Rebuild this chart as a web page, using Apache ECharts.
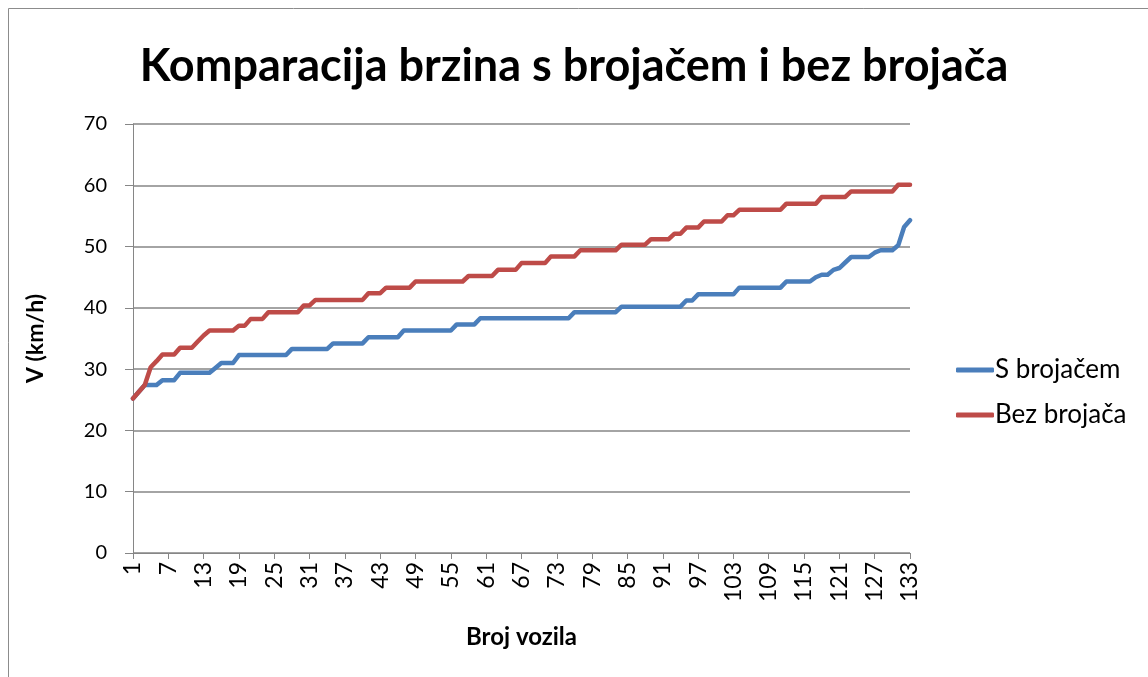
<!DOCTYPE html>
<html>
<head>
<meta charset="utf-8">
<script src="https://cdn.jsdelivr.net/npm/echarts@6/dist/echarts.min.js"></script>
<style>
html,body{margin:0;padding:0;background:#fff;}
#chart{width:1148px;height:677px;}
</style>
</head>
<body>
<div id="chart"></div>
<script>
const titleText = 'Komparacija brzina s brojačem i bez brojača';
const seriesNames = ['S brojačem', 'Bez brojača'];
const xAxisName = 'Broj vozila';
const yAxisName = 'V (km/h)';

const categories = [];
for (let i = 1; i <= 133; i++) categories.push(String(i));

const sBrojacem = [
  25.2, 26.3, 27.4, 27.4, 27.4, 28.2, 28.2, 28.2, 29.4, 29.4,
  29.4, 29.4, 29.4, 29.4, 30.2, 31.0, 31.0, 31.0, 32.3, 32.3,
  32.3, 32.3, 32.3, 32.3, 32.3, 32.3, 32.3, 33.3, 33.3, 33.3,
  33.3, 33.3, 33.3, 33.3, 34.2, 34.2, 34.2, 34.2, 34.2, 34.2,
  35.2, 35.2, 35.2, 35.2, 35.2, 35.2, 36.3, 36.3, 36.3, 36.3,
  36.3, 36.3, 36.3, 36.3, 36.3, 37.3, 37.3, 37.3, 37.3, 38.3,
  38.3, 38.3, 38.3, 38.3, 38.3, 38.3, 38.3, 38.3, 38.3, 38.3,
  38.3, 38.3, 38.3, 38.3, 38.3, 39.3, 39.3, 39.3, 39.3, 39.3,
  39.3, 39.3, 39.3, 40.2, 40.2, 40.2, 40.2, 40.2, 40.2, 40.2,
  40.2, 40.2, 40.2, 40.2, 41.2, 41.2, 42.2, 42.2, 42.2, 42.2,
  42.2, 42.2, 42.2, 43.3, 43.3, 43.3, 43.3, 43.3, 43.3, 43.3,
  43.3, 44.3, 44.3, 44.3, 44.3, 44.3, 45.0, 45.4, 45.4, 46.2,
  46.5, 47.4, 48.3, 48.3, 48.3, 48.3, 49.0, 49.4, 49.4, 49.4,
  50.2, 53.2, 54.3
];

const bezBrojaca = [
  25.2, 26.3, 27.4, 30.3, 31.3, 32.4, 32.4, 32.4, 33.5, 33.5,
  33.5, 34.5, 35.5, 36.3, 36.3, 36.3, 36.3, 36.3, 37.1, 37.1,
  38.2, 38.2, 38.2, 39.3, 39.3, 39.3, 39.3, 39.3, 39.3, 40.4,
  40.4, 41.3, 41.3, 41.3, 41.3, 41.3, 41.3, 41.3, 41.3, 41.3,
  42.4, 42.4, 42.4, 43.3, 43.3, 43.3, 43.3, 43.3, 44.3, 44.3,
  44.3, 44.3, 44.3, 44.3, 44.3, 44.3, 44.3, 45.2, 45.2, 45.2,
  45.2, 45.2, 46.2, 46.2, 46.2, 46.2, 47.3, 47.3, 47.3, 47.3,
  47.3, 48.4, 48.4, 48.4, 48.4, 48.4, 49.4, 49.4, 49.4, 49.4,
  49.4, 49.4, 49.4, 50.3, 50.3, 50.3, 50.3, 50.3, 51.2, 51.2,
  51.2, 51.2, 52.1, 52.1, 53.1, 53.1, 53.1, 54.1, 54.1, 54.1,
  54.1, 55.1, 55.1, 56.0, 56.0, 56.0, 56.0, 56.0, 56.0, 56.0,
  56.0, 57.0, 57.0, 57.0, 57.0, 57.0, 57.0, 58.1, 58.1, 58.1,
  58.1, 58.1, 59.0, 59.0, 59.0, 59.0, 59.0, 59.0, 59.0, 59.0,
  60.1, 60.1, 60.1
];

const FONT = 'Lato, "Open Sans", sans-serif';
const chart = echarts.init(document.getElementById('chart'), null, {renderer: 'canvas'});
chart.setOption({
  animation: false,
  backgroundColor: '#fff',
  graphic: [{
    type: 'polyline',
    shape: {points: [[8.5, 677], [8.5, 8.5], [1148, 8.5]]},
    style: {stroke: '#8c8c8c', lineWidth: 1, fill: null},
    silent: true
  }],
  title: {
    text: titleText,
    left: 'center',
    top: 44,
    padding: 0,
    textStyle: {fontFamily: FONT, fontWeight: 'bold', fontSize: 45, color: '#000'}
  },
  legend: {
    orient: 'vertical',
    left: 951,
    top: 352,
    itemWidth: 38,
    itemHeight: 5,
    itemGap: 19,
    icon: 'roundRect',
    textStyle: {fontFamily: FONT, fontSize: 26, color: '#000', padding: [0, 0, 0, -4]},
    data: seriesNames
  },
  grid: {left: 133, right: 238, top: 124, bottom: 124, containLabel: false},
  xAxis: {
    type: 'category',
    data: categories,
    boundaryGap: false,
    name: xAxisName,
    nameLocation: 'middle',
    nameGap: 72,
    nameTextStyle: {fontFamily: FONT, fontWeight: 'bold', fontSize: 24, color: '#000'},
    axisLine: {show: true, lineStyle: {color: '#868686', width: 1}},
    axisTick: {show: true, interval: 5, length: 6, lineStyle: {color: '#868686'}},
    axisLabel: {interval: 5, rotate: 90, margin: 9, fontFamily: FONT, fontSize: 23, color: '#000'},
    splitLine: {show: false}
  },
  yAxis: {
    type: 'value',
    min: 0,
    max: 70,
    interval: 10,
    name: yAxisName,
    nameLocation: 'middle',
    nameGap: 86,
    nameTextStyle: {fontFamily: FONT, fontWeight: 'bold', fontSize: 23, color: '#000'},
    axisLine: {show: true, lineStyle: {color: '#868686', width: 1}},
    axisTick: {show: true, length: 8, lineStyle: {color: '#868686'}},
    axisLabel: {margin: 26, fontFamily: FONT, fontSize: 20, color: '#000'},
    splitLine: {show: true, lineStyle: {color: '#868686', width: 1.5}}
  },
  series: [
    {
      name: seriesNames[0],
      type: 'line',
      data: sBrojacem,
      showSymbol: false,
      symbol: 'none',
      color: '#4A7EBB',
      lineStyle: {width: 4.5, color: '#4A7EBB', cap: 'round', join: 'round'}
    },
    {
      name: seriesNames[1],
      type: 'line',
      data: bezBrojaca,
      showSymbol: false,
      symbol: 'none',
      color: '#BE4B48',
      lineStyle: {width: 4.5, color: '#BE4B48', cap: 'round', join: 'round'}
    }
  ]
});
</script>
</body>
</html>
